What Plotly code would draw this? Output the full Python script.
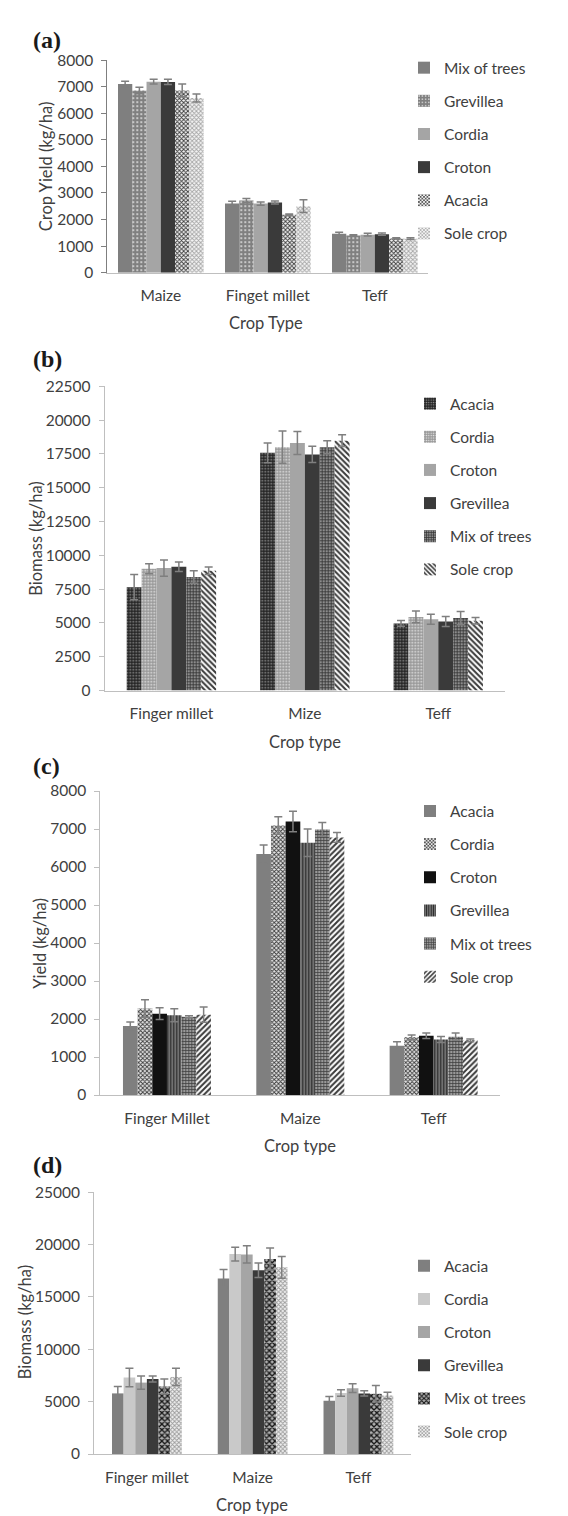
import plotly.graph_objects as go

# ---------------- Data ----------------
# Panel (a): Crop yield
a_cats = ["Maize", "Finget millet", "Teff"]
a_series = ["Mix of trees", "Grevillea", "Cordia", "Croton", "Acacia", "Sole crop"]
a_mix = [7100, 2600, 1460]
a_grev = [6860, 2720, 1400]
a_cord = [7190, 2600, 1430]
a_crot = [7180, 2640, 1450]
a_acac = [6860, 2180, 1290]
a_sole = [6580, 2500, 1280]
a_mix_err = [110, 90, 60]
a_grev_err = [120, 70, 25]
a_cord_err = [90, 60, 50]
a_crot_err = [100, 60, 40]
a_acac_err = [240, 30, 20]
a_sole_err = [150, 240, 30]

# Panel (b): Biomass
b_cats = ["Finger millet", "Mize", "Teff"]
b_series = ["Acacia", "Cordia", "Croton", "Grevillea", "Mix of trees", "Sole crop"]
b_acac = [7650, 17580, 4970]
b_cord = [9010, 18000, 5450]
b_crot = [9060, 18310, 5280]
b_grev = [9150, 17460, 5110]
b_mix = [8400, 18000, 5360]
b_sole = [8860, 18480, 5160]
b_acac_err = [930, 730, 220]
b_cord_err = [370, 1200, 440]
b_crot_err = [600, 850, 365]
b_grev_err = [350, 600, 365]
b_mix_err = [460, 480, 490]
b_sole_err = [270, 440, 240]

# Panel (c): Yield
c_cats = ["Finger Millet", "Maize", "Teff"]
c_series = ["Acacia", "Cordia", "Croton", "Grevillea", "Mix ot trees", "Sole crop"]
c_acac = [1820, 6340, 1300]
c_cord = [2280, 7090, 1520]
c_crot = [2140, 7200, 1560]
c_grev = [2100, 6640, 1460]
c_mix = [2060, 6990, 1535]
c_sole = [2115, 6780, 1440]
c_acac_err = [100, 240, 100]
c_cord_err = [230, 230, 60]
c_crot_err = [155, 270, 70]
c_grev_err = [170, 360, 80]
c_mix_err = [25, 180, 95]
c_sole_err = [200, 130, 35]

# Panel (d): Biomass
d_cats = ["Finger millet", "Maize", "Teff"]
d_series = ["Acacia", "Cordia", "Croton", "Grevillea", "Mix ot trees", "Sole crop"]
d_acac = [5790, 16760, 5090]
d_cord = [7300, 19090, 5820]
d_crot = [6820, 19060, 6290]
d_grev = [7170, 17550, 5790]
d_mix = [6450, 18620, 5750]
d_sole = [7360, 17830, 5600]
d_acac_err = [660, 850, 410]
d_cord_err = [880, 660, 310]
d_crot_err = [630, 820, 410]
d_grev_err = [280, 690, 250]
d_mix_err = [720, 1040, 790]
d_sole_err = [820, 1040, 310]

# ---------------- Styles ----------------
W, H = 568, 1516
FONT = "Lato, 'Open Sans', sans-serif"

def solid(c):
    return dict(color=c)

def pat(shape, fg, bg, size=4, sol=0.45):
    return dict(color=bg, pattern=dict(shape=shape, fgcolor=fg, bgcolor=bg,
                                       size=size, solidity=sol, fillmode="replace"))

a_styles = [solid("#7f7f7f"), pat(".", "#e0e0e0", "#808080", 4, 0.2), solid("#a5a5a5"),
            solid("#3a3a3a"), pat("x", "#3a3a3a", "#f2f2f2", 3, 0.5), pat("x", "#a6a6a6", "#f5f5f5", 3, 0.5)]
b_styles = [pat(".", "#9a9a9a", "#262626", 3, 0.25), pat(".", "#ececec", "#9a9a9a", 3, 0.25), solid("#a5a5a5"),
            solid("#3a3a3a"), pat("+", "#303030", "#8c8c8c", 3, 0.45), pat("\\", "#3a3a3a", "#ffffff", 4, 0.5)]
c_styles = [solid("#7f7f7f"), pat("x", "#3a3a3a", "#e6e6e6", 3, 0.5), solid("#111111"),
            pat("|", "#262626", "#8a8a8a", 3, 0.5), pat("+", "#404040", "#9a9a9a", 3, 0.45), pat("/", "#3a3a3a", "#ffffff", 4, 0.5)]
d_styles = [solid("#7f7f7f"), solid("#c9c9c9"), solid("#a5a5a5"),
            solid("#3a3a3a"), pat("x", "#151515", "#b0b0b0", 4, 0.55), pat("x", "#9a9a9a", "#f0f0f0", 3, 0.5)]

panels = [
    dict(key="", cats=a_cats, series=a_series,
         vals=[a_mix, a_grev, a_cord, a_crot, a_acac, a_sole],
         errs=[a_mix_err, a_grev_err, a_cord_err, a_crot_err, a_acac_err, a_sole_err],
         styles=a_styles, top=42.7, bot=257.7, left=99.3, right=420.3, ymax=8000, dtick=1000,
         group=0.8, legx=396, legy=33.5, axcol="#7f7f7f"),
    dict(key="2", cats=b_cats, series=b_series,
         vals=[b_acac, b_cord, b_crot, b_grev, b_mix, b_sole],
         errs=[b_acac_err, b_cord_err, b_crot_err, b_grev_err, b_mix_err, b_sole_err],
         styles=b_styles, top=372.7, bot=680.7, left=96.7, right=497, ymax=22500, dtick=2500,
         group=0.67, legx=402, legy=373.5, axcol="#bfbfbf"),
    dict(key="3", cats=c_cats, series=c_series,
         vals=[c_acac, c_cord, c_crot, c_grev, c_mix, c_sole],
         errs=[c_acac_err, c_cord_err, c_crot_err, c_grev_err, c_mix_err, c_sole_err],
         styles=c_styles, top=782.3, bot=1090, left=92.3, right=492.3, ymax=8000, dtick=1000,
         group=0.66, legx=402, legy=785.7, axcol="#bfbfbf"),
    dict(key="4", cats=d_cats, series=d_series,
         vals=[d_acac, d_cord, d_crot, d_grev, d_mix, d_sole],
         errs=[d_acac_err, d_cord_err, d_crot_err, d_grev_err, d_mix_err, d_sole_err],
         styles=d_styles, top=1188.3, bot=1453.3, left=86, right=403.3, ymax=25000, dtick=5000,
         group=0.66, legx=396, legy=1246, axcol="#bfbfbf"),
]

fig = go.Figure()
layout = dict(width=W, height=H, margin=dict(l=0, r=0, t=0, b=0),
              paper_bgcolor="white", plot_bgcolor="white",
              font=dict(family=FONT, size=15, color="#404040"),
              barmode="group")

for i, p in enumerate(panels):
    k = p["key"]
    xa = "x" + k
    ya = "y" + k
    leg = "legend" + k
    n = len(p["series"])
    w = p["group"] / n
    for j, (name, v, e, st) in enumerate(zip(p["series"], p["vals"], p["errs"], p["styles"])):
        marker = dict(st)
        marker["line"] = dict(width=0)
        fig.add_trace(go.Bar(
            x=p["cats"], y=v, name=name, xaxis=xa, yaxis=ya, legend=leg,
            legendgroup=f"p{i}_{j}", marker=marker, width=w, offset=-p["group"] / 2 + j * w,
            error_y=dict(type="data", array=e, visible=True, color="#7f7f7f", thickness=1.5, width=4),
        ))
    xdom = [p["left"] / W, p["right"] / W]
    ydom = [1 - p["bot"] / H, 1 - p["top"] / H]
    layout["xaxis" + k] = dict(domain=xdom, anchor=ya, showline=True, linecolor="#bfbfbf", linewidth=1,
                               ticks="", showgrid=False, tickfont=dict(size=15.5, color="#404040"),
                               ticklabelstandoff=9, fixedrange=True)
    layout["yaxis" + k] = dict(domain=ydom, anchor=xa, range=[0, p["ymax"]], dtick=p["dtick"],
                               tickformat="d",
                               showline=True, linecolor=p["axcol"], linewidth=1, ticks="outside",
                               ticklen=5, tickcolor=p["axcol"], showgrid=False, zeroline=False,
                               tickfont=dict(size=15.5, color="#404040"), ticklabelstandoff=5,
                               fixedrange=True)
    layout[leg] = dict(x=p["legx"] / W, y=1 - p["legy"] / H, xanchor="left", yanchor="top",
                       font=dict(size=15.5, color="#404040"), tracegroupgap=10,
                       bgcolor="rgba(0,0,0,0)", itemwidth=30)

fig.update_layout(**layout)

# Titles and panel labels
ann = []
ylabels = ["Crop Yield (kg/ha)", "Biomass (kg/ha)", "Yield (kg/ha)", "Biomass (kg/ha)"]
ylab_pos = [(38, 150), (28, 527), (32, 937), (17, 1320)]
xlabels = ["Crop Type", "Crop type", "Crop type", "Crop type"]
xlab_pos = [(258, 309), (297, 733), (292, 1142), (244, 1505)]
plabels = ["(a)", "(b)", "(c)", "(d)"]
plab_pos = [(23, 22), (23, 345), (23, 757), (23, 1161)]
for t, (x, y) in zip(ylabels, ylab_pos):
    ann.append(dict(text=t, x=x / W, y=1 - y / H, xref="paper", yref="paper", showarrow=False,
                    textangle=-90, font=dict(size=16.5, color="#404040"), xanchor="center", yanchor="middle"))
for t, (x, y) in zip(xlabels, xlab_pos):
    ann.append(dict(text=t, x=x / W, y=1 - y / H, xref="paper", yref="paper", showarrow=False,
                    font=dict(size=16.5, color="#404040"), xanchor="center", yanchor="middle"))
for t, (x, y) in zip(plabels, plab_pos):
    ann.append(dict(text="<b>" + t + "</b>", x=x / W, y=1 - y / H, xref="paper", yref="paper",
                    showarrow=False, font=dict(size=24, color="#1a1a1a",
                                               family="'Liberation Serif', 'Times New Roman', serif"),
                    xanchor="left", yanchor="middle"))
fig.update_layout(annotations=ann)

fig.write_html("out.html")
